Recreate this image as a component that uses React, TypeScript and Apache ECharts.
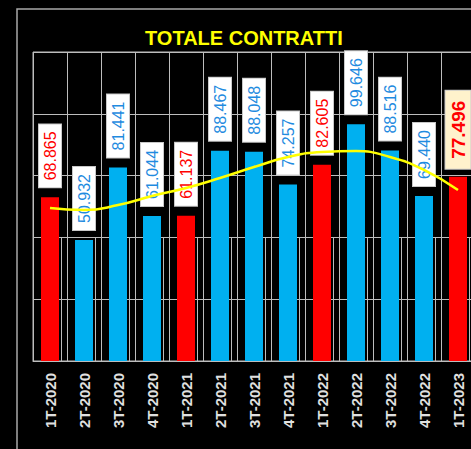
import React, { useEffect, useRef } from "react";
import * as echarts from "echarts";

const categories = [
  "1T-2020", "2T-2020", "3T-2020", "4T-2020",
  "1T-2021", "2T-2021", "3T-2021", "4T-2021",
  "1T-2022", "2T-2022", "3T-2022", "4T-2022",
  "1T-2023",
];
const contracts = [
  68865, 50932, 81441, 61044,
  61137, 88467, 88048, 74257,
  82605, 99646, 88516, 69440,
  77496,
];
const highlighted = [
  true, false, false, false,
  true, false, false, false,
  true, false, false, false,
  true,
];
const trend = [
  64400, 63500, 65600, 69400,
  72800, 77000, 81600, 85800,
  87900, 88300, 85800, 80400,
  71900,
];
const yMax = 130000;
const yInterval = 26000;
const titleText = "TOTALE CONTRATTI";

const FONT = 'Arial, "Liberation Sans", sans-serif';
const RED = "#ff0000";
const BLUE = "#00b0f0";
const GRIDC = "#bdbdbd";

function fmt(v: number): string {
  return String(v).replace(/\B(?=(\d{3})+(?!\d))/g, ".");
}

export default function App() {
  const ref = useRef<HTMLDivElement>(null);
  useEffect(() => {
    document.body.style.margin = "0";
    document.body.style.background = "#000";
    document.body.style.overflow = "hidden";
    if (!ref.current) return;
    const chart = echarts.init(ref.current, undefined, { renderer: "svg" });
    const last = contracts.length - 1;
    const barData = contracts.map((v, i) => {
      const isLast = i === last;
      const col = highlighted[i] ? RED : BLUE;
      return {
        value: v,
        itemStyle: { color: col },
        label: {
          show: true,
          position: "top",
          rotate: 90,
          align: "left",
          verticalAlign: "middle",
          distance: isLast ? 8 : 10,
          formatter: fmt(v),
          color: highlighted[i] ? RED : "#1f8be0",
          fontSize: isLast ? 19 : 16,
          fontWeight: isLast ? "bold" : "normal",
          fontFamily: FONT,
          backgroundColor: isLast ? "#fff2cc" : "#ffffff",
          borderColor: "#c8c8c8",
          borderWidth: 1,
          padding: isLast ? [3, 10] : [3, 7],
        },
      };
    });
    chart.setOption({
      animation: false,
      backgroundColor: "#000000",
      title: {
        text: titleText,
        left: 145,
        top: 28,
        padding: 0,
        textStyle: { color: "#ffff00", fontSize: 20, fontWeight: "bold", fontFamily: FONT },
      },
      graphic: [
        {
          type: "rect",
          shape: { x: 17, y: 9, width: 600, height: 600 },
          style: { fill: "none", stroke: "#a8a8a8", lineWidth: 1.5 },
          silent: true,
          z: -1,
        },
      ],
      grid: [
        { left: 33, top: 52, right: 45, bottom: 88, show: true, borderColor: GRIDC, borderWidth: 1 },
        { left: 61, top: 237, right: 17, bottom: 88 },
      ],
      xAxis: [
        {
          type: "category",
          gridIndex: 0,
          data: categories,
          boundaryGap: true,
          axisLine: { show: true, lineStyle: { color: GRIDC, width: 1 } },
          axisTick: { show: false },
          splitLine: { show: true, interval: 0, lineStyle: { color: GRIDC, width: 1 } },
          axisLabel: {
            interval: 0,
            rotate: 90,
            margin: 12,
            color: "#e0e0e0",
            fontSize: 15,
            fontWeight: "bold",
            fontFamily: FONT,
          },
        },
        {
          type: "value",
          gridIndex: 1,
          min: 0,
          max: 13,
          interval: 1,
          axisLine: { show: false },
          axisTick: { show: false },
          axisLabel: { show: false },
          splitLine: { show: true, lineStyle: { color: GRIDC, width: 1 } },
        },
      ],
      yAxis: [
        {
          type: "value",
          gridIndex: 0,
          min: 0,
          max: yMax,
          interval: yInterval,
          axisLine: { show: false },
          axisTick: { show: false },
          axisLabel: { show: false },
          splitLine: { show: true, lineStyle: { color: GRIDC, width: 1 } },
        },
        { type: "value", gridIndex: 1, show: false, splitLine: { show: false } },
      ],
      series: [
        {
          type: "bar",
          xAxisIndex: 0,
          yAxisIndex: 0,
          barWidth: 18,
          data: barData,
          z: 2,
        },
        {
          type: "line",
          xAxisIndex: 0,
          yAxisIndex: 0,
          data: trend,
          smooth: true,
          symbol: "none",
          lineStyle: { color: "#ffff00", width: 2.5 },
          z: 3,
        },
      ],
    });
    return () => chart.dispose();
  }, []);
  return (
    <div
      ref={ref}
      style={{ position: "fixed", left: 0, top: 0, width: 520, height: 449, background: "#000" }}
    />
  );
}
